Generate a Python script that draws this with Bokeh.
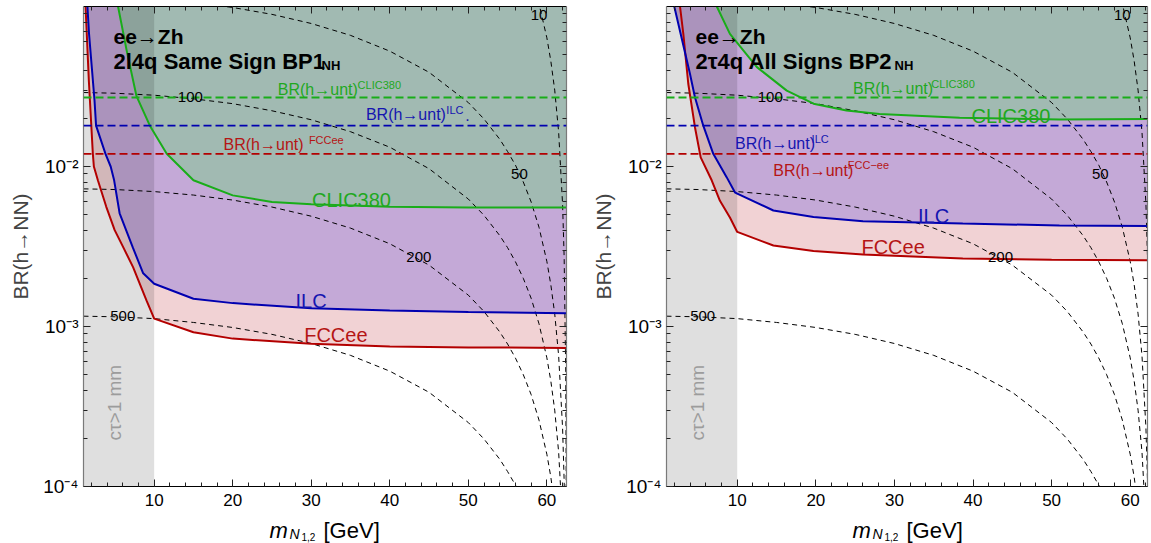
from bokeh.plotting import figure
from bokeh.layouts import row, column
from bokeh.models import (Range1d, FixedTicker, SingleIntervalTicker, LinearAxis,
                          LogAxis, Label, Span)
from bokeh.embed import file_html
from bokeh.resources import INLINE

# ---------------- data ----------------
# dashed contours (labels 10, 50, 100, 200, 500) on a common mass grid [GeV]
m_contour = [1, 5, 10, 15, 20, 25, 30, 35, 40, 45, 50, 52, 54, 55, 56, 57, 58, 59,
             60, 60.5, 61, 61.5, 62, 62.2, 62.4, 62.47]
contour_labels = ["10", "50", "100", "200", "500"]
br_contour_10 = [2.90, 2.87, 2.79, 2.65, 2.47, 2.23, 1.96, 1.65, 1.32, 0.969, 0.626, 0.495,
                 0.370, 0.311, 0.254, 0.200, 0.150, 0.104, 0.0637, 0.0458, 0.0300, 0.0164,
                 0.00583, 0.00272, 0.000525, 0.000086]
br_contour_50 = [0.116, 0.115, 0.112, 0.106, 0.0986, 0.0893, 0.0783, 0.0660, 0.0526, 0.0388,
                 0.0251, 0.0198, 0.0148, 0.0124, 0.0102, 0.0080, 0.0060, 0.00417, 0.00255,
                 0.00183, 0.00120, 0.000656, 0.000233, 0.000109, 0.000021, 0.0000034]
br_contour_100 = [0.0290, 0.0287, 0.0279, 0.0265, 0.0247, 0.0223, 0.0196, 0.0165, 0.0132,
                  0.00969, 0.00626, 0.00495, 0.00370, 0.00311, 0.00254, 0.00200, 0.00150,
                  0.00104, 0.000637, 0.000458, 0.000300, 0.000164, 0.0000583, 0.0000272,
                  0.0000053, 0.00000086]
br_contour_200 = [0.00725, 0.00718, 0.00697, 0.00663, 0.00617, 0.00558, 0.00489, 0.00412,
                  0.00329, 0.00242, 0.00157, 0.00124, 0.000925, 0.000777, 0.000635, 0.000500,
                  0.000375, 0.000260, 0.000159, 0.000115, 0.0000750, 0.0000410, 0.0000146,
                  0.0000068, 0.0000013, 0.00000022]
br_contour_500 = [0.00116, 0.00115, 0.00112, 0.00106, 0.000986, 0.000893, 0.000783, 0.000660,
                  0.000526, 0.000388, 0.000251, 0.000198, 0.000148, 0.000124, 0.000102,
                  0.0000800, 0.0000600, 0.0000417, 0.0000255, 0.0000183, 0.0000120,
                  0.0000066, 0.0000023, 0.0000011, 0.00000021, 0.000000034]

# untagged-BR projections (horizontal dashed lines)
br_unt_clic = 0.027
br_unt_ilc = 0.018
br_unt_fcc = 0.012

# prompt-decay boundary: c*tau > 1 mm below this mass
ctau_mass_cut = 10.0

# BP1: 2l4q same sign
bp1_fcc_m = [1.2, 1.26, 1.68, 2.19, 2.32, 2.83, 3.9, 4.97, 6.1, 7.31, 9.03, 10, 15, 20, 30, 40, 50, 62.5]
bp1_fcc_br = [0.13, 0.1, 0.0345, 0.012, 0.010, 0.0082, 0.0056, 0.0040, 0.0031, 0.00235,
              0.00145, 0.00112, 0.00092, 0.00084, 0.00078, 0.00075, 0.00074, 0.000735]
bp1_ilc_m = [1.4, 1.5, 1.7, 2.05, 2.4, 2.6, 3.8, 4.46, 4.9, 5.6, 7.3, 8.6, 10, 15, 20, 30, 40, 50, 62.5]
bp1_ilc_br = [0.12, 0.1, 0.068, 0.042, 0.026, 0.018, 0.012, 0.010, 0.0082, 0.0051, 0.0031,
              0.00215, 0.00185, 0.00149, 0.00140, 0.00130, 0.00126, 0.00123, 0.00121]
bp1_clic_m = [5.2, 5.4, 6.5, 7.75, 9.45, 11.6, 15, 20, 25, 30, 40, 50, 62.5]
bp1_clic_br = [0.12, 0.1, 0.053, 0.0275, 0.018, 0.012, 0.0082, 0.0066, 0.0060, 0.0058,
               0.0056, 0.00555, 0.00555]

# BP2: 2tau4q all signs
bp2_fcc_m = [2.6, 2.72, 3.14, 3.77, 4.62, 5.35, 6.75, 7.8, 9.07, 10, 14.6, 19.7, 26, 38.7, 50, 62.5]
bp2_fcc_br = [0.12, 0.1, 0.0675, 0.0329, 0.0176, 0.0114, 0.0082, 0.0061, 0.0048, 0.0039,
              0.00321, 0.00296, 0.00282, 0.00266, 0.00261, 0.00259]
bp2_ilc_m = [1.9, 1.99, 3.99, 4.62, 5.68, 6.95, 8.65, 9.7, 10, 14.6, 19.7, 26, 38.7, 51, 62.5]
bp2_ilc_br = [0.12, 0.1, 0.0379, 0.0271, 0.018, 0.012, 0.00858, 0.0069, 0.00676, 0.00531,
              0.00483, 0.00455, 0.0044, 0.00428, 0.00425]
bp2_clic_m = [7.2, 7.4, 9.07, 12.5, 16.3, 19.7, 23.9, 28.1, 38.3, 51, 62.5]
bp2_clic_br = [0.12, 0.1, 0.0675, 0.0418, 0.0298, 0.0247, 0.0224, 0.0213, 0.0202, 0.0197, 0.0198]

y_tick_values = [1e-4, 1e-3, 1e-2]
y_tick_labels = ["10⁻⁴", "10⁻³", "10⁻²"]

# ---------------- style ----------------
FONT = "Liberation Sans"
RED = "#b30000"
BLUE = "#0000b0"
GREEN = "#19ad19"
RED_TXT = "#b51515"
BLUE_TXT = "#1515b0"
GREEN_TXT = "#1fa81f"
FILL_FCC = "#f1d2d4"
FILL_ILC = "#c4a9d7"
FILL_CLIC = "#a1bab2"
Y_MIN, Y_MAX = 1e-4, 0.1
FRAME_H = 480
TOP_BORDER = 6
BOTTOM_BORDER = 30
PAGE_H = 543


def label(p, x, y, text, size, color="black", style="normal", units="data",
          align="left", baseline="alphabetic", angle=0):
    p.add_layout(Label(x=x, y=y, x_units=units, y_units=units, text=text,
                       text_font=FONT, text_font_size=f"{size}px", text_color=color,
                       text_font_style=style, text_align=align, text_baseline=baseline,
                       angle=angle, angle_units="deg"))


def style_axis(ax, line_color, labels=True, size=17):
    ax.axis_line_color = line_color
    ax.axis_line_width = 1.2
    ax.major_tick_in = 7
    ax.major_tick_out = 0
    ax.minor_tick_in = 4
    ax.minor_tick_out = 0
    ax.major_tick_line_color = "#222222"
    ax.minor_tick_line_color = "#222222"
    if labels:
        ax.major_label_text_font = FONT
        ax.major_label_text_font_size = f"{size}px"
        ax.major_label_text_color = "black"
    else:
        ax.major_label_text_font_size = "1px"
        ax.major_label_text_alpha = 0.0
        ax.major_label_standoff = 0


def panel(border_left, frame_w, border_right, x_max, fcc, ilc, clic):
    p = figure(frame_width=frame_w, frame_height=FRAME_H,
               x_range=Range1d(1.0, x_max), y_range=Range1d(Y_MIN, Y_MAX),
               y_axis_type="log", output_backend="svg", toolbar_location=None,
               min_border_left=border_left, min_border_right=border_right,
               min_border_top=TOP_BORDER, min_border_bottom=BOTTOM_BORDER)
    p.grid.visible = False
    p.outline_line_color = None
    p.background_fill_color = "white"

    xt = SingleIntervalTicker(interval=10, num_minor_ticks=5)
    minor = [k * 10.0 ** e for e in (-4, -3, -2) for k in range(2, 10)]
    yt = FixedTicker(ticks=y_tick_values, minor_ticks=minor)

    p.xaxis.ticker = xt
    style_axis(p.xaxis[0], "black")
    p.xaxis.major_label_standoff = 7
    p.yaxis.ticker = yt
    style_axis(p.yaxis[0], "#7a7a7a", size=19)
    p.yaxis.major_label_overrides = dict(zip(y_tick_values, y_tick_labels))
    p.yaxis.major_label_standoff = 5
    p.yaxis.axis_label = "BR(h→NN)"
    p.yaxis.axis_label_text_font = FONT
    p.yaxis.axis_label_text_font_size = "21px"
    p.yaxis.axis_label_text_font_style = "normal"
    p.yaxis.axis_label_standoff = 8

    top = LinearAxis(ticker=xt)
    style_axis(top, "black", labels=False)
    p.add_layout(top, "above")
    right = LogAxis(ticker=yt)
    style_axis(right, "#7a7a7a", labels=False)
    p.add_layout(right, "right")

    # excluded regions, each filled from its curve up to the top
    for (m, br), fill in zip((fcc, ilc, clic), (FILL_FCC, FILL_ILC, FILL_CLIC)):
        p.varea(x=m, y1=br, y2=Y_MAX, fill_color=fill, fill_alpha=1.0)

    # long-lived band
    p.quad(left=[0.0], right=[ctau_mass_cut], bottom=[Y_MIN], top=[Y_MAX],
           fill_color="black", fill_alpha=0.125, line_color=None)

    for brc in (br_contour_10, br_contour_50, br_contour_100, br_contour_200, br_contour_500):
        p.line(m_contour, brc, line_color="black", line_width=1, line_dash="5 4")

    for loc, col in ((br_unt_clic, GREEN), (br_unt_ilc, BLUE), (br_unt_fcc, RED)):
        p.add_layout(Span(location=loc, dimension="width", line_color=col,
                          line_width=1.8, line_dash="8 4"))

    for (m, br), col in zip((fcc, ilc, clic), (RED, BLUE, GREEN)):
        p.line(m, br, line_color=col, line_width=2)

    label(p, 5.0, 1.94e-4, "cτ>1 mm", 19, color="#9c9c9c", angle=90, baseline="middle")
    return p


def x_title(border_left, frame_w, border_right):
    """Strip under a panel carrying the x-axis title m_{N_{1,2}} [GeV];
    its frame lines up with the panel frame above it."""
    h = PAGE_H - (TOP_BORDER + FRAME_H + BOTTOM_BORDER)
    s = figure(frame_width=frame_w, frame_height=h, x_range=Range1d(0, frame_w),
               y_range=Range1d(0, h), output_backend="svg", toolbar_location=None,
               x_axis_location=None, y_axis_location=None,
               min_border_left=border_left, min_border_right=border_right,
               min_border_top=0, min_border_bottom=0)
    s.grid.visible = False
    s.outline_line_color = None
    base = h - 14
    x0 = 186
    label(s, x0, base, "m", 22, style="italic", units="screen")
    label(s, x0 + 20, base - 3, "N", 14, style="italic", units="screen")
    label(s, x0 + 32, base - 6, "1,2", 10, units="screen")
    label(s, x0 + 54, base, "[GeV]", 22, units="screen")
    return s


# ---------------- left panel ----------------
p1 = panel(83, 483, 9, 62.5, (bp1_fcc_m, bp1_fcc_br), (bp1_ilc_m, bp1_ilc_br),
           (bp1_clic_m, bp1_clic_br))
label(p1, 30, 450, "ee→Zh", 21, style="bold", units="screen")
label(p1, 30, 425, "2l4q Same Sign BP1", 22, style="bold", units="screen")
label(p1, 238, 421, "NH", 13, style="bold", units="screen")

for txt, (x, y) in zip(contour_labels, [(59.0, 0.088), (56.5, 0.009), (14.6, 0.027),
                                        (43.7, 0.0027), (6.0, 0.00117)]):
    label(p1, x, y, txt, 15, align="center", baseline="middle")

label(p1, 25.74, 0.0303, "BR(h→unt)", 16, color=GREEN_TXT)
label(p1, 35.9, 0.0321, "CLIC380", 11, color=GREEN_TXT)
label(p1, 36.96, 0.0211, "BR(h→unt)", 16, color=BLUE_TXT)
label(p1, 47.2, 0.0224, "ILC", 11, color=BLUE_TXT)
label(p1, 49.6, 0.0211, ".", 16, color=BLUE_TXT)
label(p1, 18.83, 0.01373, "BR(h→unt)", 16, color=RED_TXT)
label(p1, 29.7, 0.01454, "FCCee", 11, color=RED_TXT)
label(p1, 33.6, 0.01373, ".", 16, color=RED_TXT)

label(p1, 30.1, 0.0062, "CLIC380", 20, color=GREEN_TXT)
label(p1, 28.0, 0.00144, "ILC", 20, color=BLUE_TXT)
label(p1, 29.1, 0.00088, "FCCee", 20, color=RED_TXT)

# ---------------- right panel ----------------
p2 = panel(91, 481, 4, 62.2, (bp2_fcc_m, bp2_fcc_br), (bp2_ilc_m, bp2_ilc_br),
           (bp2_clic_m, bp2_clic_br))
label(p2, 29, 450, "ee→Zh", 21, style="bold", units="screen")
label(p2, 29, 425, "2τ4q All Signs BP2", 22, style="bold", units="screen")
label(p2, 228, 421, "NH", 13, style="bold", units="screen")

for txt, (x, y) in zip(contour_labels, [(59.0, 0.088), (56.2, 0.009), (14.2, 0.027),
                                        (43.5, 0.0027), (5.6, 0.00117)]):
    label(p2, x, y, txt, 15, align="center", baseline="middle")

label(p2, 24.74, 0.0307, "BR(h→unt)", 16, color=GREEN_TXT)
label(p2, 34.7, 0.033, "CLIC380", 11, color=GREEN_TXT)
label(p2, 9.71, 0.01393, "BR(h→unt)", 16, color=BLUE_TXT)
label(p2, 19.46, 0.01475, "ILC", 11, color=BLUE_TXT)
label(p2, 14.58, 0.00944, "BR(h→unt)", 16, color=RED_TXT)
label(p2, 24.07, 0.01015, "FCC−ee", 11, color=RED_TXT)

label(p2, 39.8, 0.0208, "CLIC380", 20, color=GREEN_TXT)
label(p2, 33.0, 0.00494, "ILC", 20, color=BLUE_TXT)
label(p2, 25.8, 0.00313, "FCCee", 20, color=RED_TXT)

t1 = x_title(83, 483, 9)
t2 = x_title(91, 481, 4)

layout = row(column(p1, t1), column(p2, t2))
open("out.html", "w").write(file_html(layout, INLINE))
